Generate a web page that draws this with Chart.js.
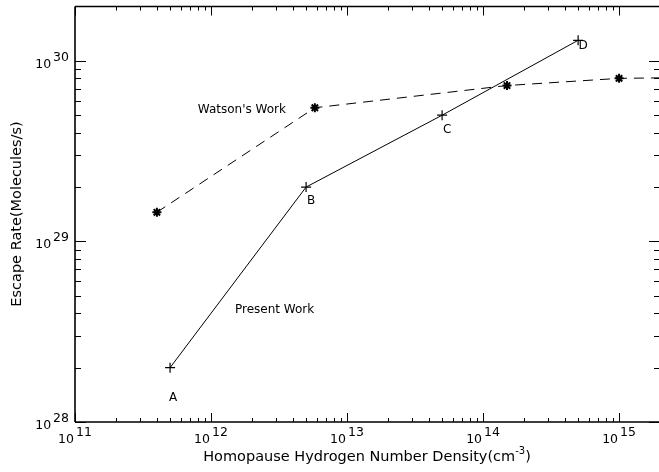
<!DOCTYPE html>
<html>
<head>
<meta charset="utf-8">
<script src="https://cdn.jsdelivr.net/npm/chart.js@4.4.0/dist/chart.umd.min.js"></script>
<style>
  html, body { margin: 0; padding: 0; background: #fff; overflow: hidden; }
  #wrap { width: 680px; height: 472px; }
</style>
</head>
<body>
<div id="wrap"><canvas id="chart" width="680" height="472"></canvas></div>
<script>
// homopause H number density (cm^-3) vs escape rate (molecules/s)
const presentDensity = [5e11, 5e12, 5e13, 5e14]
const presentRate = [2.0e28, 2.0e29, 5.0e29, 1.3e30]
const presentNames = ["A", "B", "C", "D"]

const watsonDensity = [4e11, 5.8e12, 1.5e14, 1e15, 4e15]
const watsonRate = [1.45e29, 5.5e29, 7.3e29, 8.0e29, 8.1e29]

const xDecades = [1e11, 1e12, 1e13, 1e14, 1e15]
const yDecades = [1e28, 1e29, 1e30]

const FONT = "'DejaVu Sans', sans-serif"

const toPoints = (xs, ys) => xs.map((v, i) => ({ x: v, y: ys[i] }))

// minor log ticks 2..9 inside each decade, kept within the axis range
function minorTicks(decades, min, max) {
    const out = []
    decades.forEach(d => {
        for (let k = 2; k <= 9; k++) {
            const v = k * d
            if (v > min && v < max) out.push(v)
        }
    })
    return out
}

function powerLabel(ctx, base, exp, x, y, align) {
    ctx.font = "12.5px " + FONT
    const wb = ctx.measureText(base).width
    const we = ctx.measureText(exp).width
    const gap = 2
    let left = x
    if (align === "center") left = x - (wb + we + gap) / 2
    if (align === "right") left = x - (wb + we + gap)
    ctx.textAlign = "left"
    ctx.textBaseline = "alphabetic"
    ctx.fillText(base, left, y)
    ctx.fillText(exp, left + wb + gap, y - 7)
}

const frame = {
    id: "frame",
    afterDraw(chart) {
        const { ctx, chartArea: a } = chart
        const x = chart.scales.x, y = chart.scales.y
        ctx.save()
        ctx.fillStyle = "#000"
        ctx.strokeStyle = "#000"

        // box
        ctx.lineWidth = 1.5
        ctx.beginPath()
        ctx.moveTo(a.left, a.top); ctx.lineTo(a.right, a.top)
        ctx.moveTo(a.left, a.bottom); ctx.lineTo(a.right, a.bottom)
        ctx.moveTo(a.right, a.top); ctx.lineTo(a.right, a.bottom)
        ctx.stroke()
        ctx.strokeStyle = "#333"
        ctx.lineWidth = 2
        ctx.beginPath()
        ctx.moveTo(a.left, a.top); ctx.lineTo(a.left, a.bottom)
        ctx.stroke()

        // ticks on all four sides, pointing inward
        ctx.strokeStyle = "#000"
        ctx.lineWidth = 1
        ctx.beginPath()
        const xt = (v, len) => {
            const px = Math.round(x.getPixelForValue(v)) + 0.5
            ctx.moveTo(px, a.bottom); ctx.lineTo(px, a.bottom - len)
            ctx.moveTo(px, a.top); ctx.lineTo(px, a.top + len)
        }
        const yt = (v, len) => {
            const py = Math.round(y.getPixelForValue(v)) + 0.5
            ctx.moveTo(a.left, py); ctx.lineTo(a.left + len, py)
            ctx.moveTo(a.right, py); ctx.lineTo(a.right - len, py)
        }
        xDecades.forEach(v => xt(v, 9))
        minorTicks(xDecades, x.min, x.max).forEach(v => xt(v, 4))
        yDecades.forEach(v => yt(v, 11))
        minorTicks(yDecades, y.min, y.max).forEach(v => yt(v, 6))
        ctx.stroke()

        // tick labels
        xDecades.forEach(v => {
            powerLabel(ctx, "10", String(Math.round(Math.log10(v))), x.getPixelForValue(v), a.bottom + 21, "center")
        })
        yDecades.forEach(v => {
            powerLabel(ctx, "10", String(Math.round(Math.log10(v))), a.left - 6, y.getPixelForValue(v) + 7, "right")
        })

        // axis titles
        const tf = "14.5px " + FONT, sf = "10px " + FONT
        ctx.textBaseline = "middle"
        const t1 = "Homopause Hydrogen Number Density(cm"
        const t2 = ")"
        ctx.font = sf
        const wsup = ctx.measureText("-3").width
        ctx.font = tf
        const w1 = ctx.measureText(t1).width
        const w2 = ctx.measureText(t2).width
        const tx = 367 - (w1 + wsup + w2) / 2
        ctx.textAlign = "left"
        ctx.fillText(t1, tx, 457)
        ctx.font = sf
        ctx.fillText("-3", tx + w1, 451)
        ctx.font = tf
        ctx.fillText(t2, tx + w1 + wsup, 457)

        ctx.save()
        ctx.translate(17, 214)
        ctx.rotate(-Math.PI / 2)
        ctx.textAlign = "center"
        ctx.fillText("Escape Rate(Molecules/s)", 0, 0)
        ctx.restore()

        // point names next to the present-work markers
        const offs = [[3, 30], [5, 14], [5, 15], [5, 6]]
        ctx.font = "12px " + FONT
        ctx.textAlign = "center"
        ctx.textBaseline = "middle"
        presentNames.forEach((n, i) => {
            const px = x.getPixelForValue(presentDensity[i])
            const py = y.getPixelForValue(presentRate[i])
            ctx.fillText(n, px + offs[i][0], py + offs[i][1])
        })

        // series captions
        ctx.textAlign = "left"
        ctx.fillText("Watson's Work", x.getPixelForValue(8e11), y.getPixelForValue(5.35e29))
        ctx.fillText("Present Work", x.getPixelForValue(1.5e12), y.getPixelForValue(4.2e28))
        ctx.restore()
    }
}

new Chart(document.getElementById("chart"), {
    type: "line",
    data: {
        datasets: [
            {
                label: "Present Work",
                data: toPoints(presentDensity, presentRate),
                borderColor: "#000",
                borderWidth: 1,
                pointStyle: "cross",
                pointRadius: 5,
                pointBorderWidth: 1.2,
                pointBorderColor: "#000",
                tension: 0,
            },
            {
                label: "Watson's Work",
                data: toPoints(watsonDensity, watsonRate),
                borderColor: "#000",
                borderWidth: 1,
                borderDash: [10, 7],
                pointStyle: "star",
                pointRadius: 4.5,
                pointBorderWidth: 2,
                pointBorderColor: "#000",
                tension: 0,
            },
        ],
    },
    options: {
        responsive: false,
        animation: false,
        devicePixelRatio: 1,
        layout: { padding: { left: 75, top: 6, right: 20, bottom: 50 } },
        scales: {
            x: { type: "logarithmic", min: 1e11, max: 2e15, display: false },
            y: { type: "logarithmic", min: 1e28, max: 2e30, display: false },
        },
        plugins: {
            legend: { display: false },
            tooltip: { enabled: false },
        },
    },
    plugins: [frame],
})
</script>
</body>
</html>
